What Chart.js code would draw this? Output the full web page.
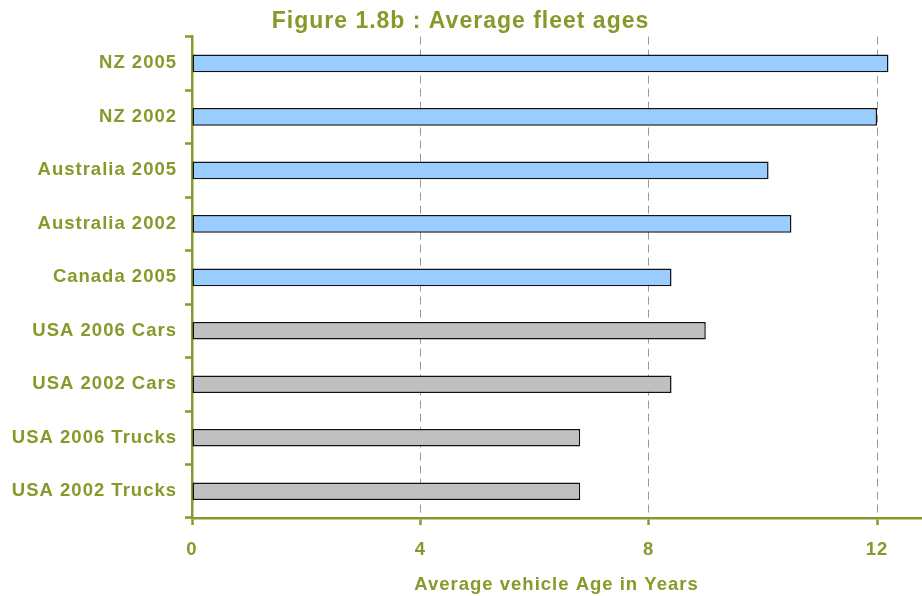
<!DOCTYPE html>
<html>
<head>
<meta charset="utf-8">
<script src="https://cdn.jsdelivr.net/npm/chart.js@4"></script>
<style>
  body { margin: 0; background: #fff; }
  #wrap { width: 922px; height: 596px; position: relative; }
</style>
</head>
<body>
<div id="wrap"><canvas id="fleet"></canvas></div>
<script>
const labels = ['NZ 2005', 'NZ 2002', 'Australia 2005', 'Australia 2002', 'Canada 2005',
  'USA 2006 Cars', 'USA 2002 Cars', 'USA 2006 Trucks', 'USA 2002 Trucks'];
const ages = [12.2, 12.0, 10.1, 10.5, 8.4, 9.0, 8.4, 6.8, 6.8];
const barColors = ['#99CCFF', '#99CCFF', '#99CCFF', '#99CCFF', '#99CCFF',
  '#C0C0C0', '#C0C0C0', '#C0C0C0', '#C0C0C0'];
const xTicks = [0, 4, 8, 12];

const olive = '#869A2A';

// canvas letter spacing, the source text is spaced out a bit
const spacing = {
  id: 'spacing',
  beforeInit(chart) { chart.ctx.letterSpacing = '1px'; },
  beforeUpdate(chart) { chart.ctx.letterSpacing = '1px'; },
  beforeDraw(chart) { chart.ctx.letterSpacing = '1px'; }
};

const data = {
  labels: labels,
  datasets: [{
    label: 'Average age',
    data: ages,
    backgroundColor: barColors,
    borderColor: '#111',
    borderWidth: 1.5,
    borderSkipped: false,
    barPercentage: 0.33,
    categoryPercentage: 1
  }]
};

const config = {
  type: 'bar',
  data: data,
  plugins: [spacing],
  options: {
    indexAxis: 'y',
    responsive: true,
    maintainAspectRatio: false,
    animation: false,
    layout: {
      padding: { top: 0, bottom: 0, left: 0, right: 1 }
    },
    plugins: {
      legend: { display: false },
      tooltip: { enabled: false },
      title: {
        display: true,
        text: 'Figure 1.8b : Average fleet ages',
        color: olive,
        font: { family: 'Liberation Sans', size: 23, weight: 'bold' },
        padding: { top: 8, bottom: 1 }
      }
    },
    scales: {
      x: {
        min: 0,
        max: 12.77,
        afterBuildTicks: (axis) => { axis.ticks = xTicks.map(v => ({ value: v })); },
        afterFit: (axis) => { axis.height = 78; },
        grid: {
          color: (c) => (c.tick && c.tick.value === 0) ? 'rgba(0,0,0,0)' : '#9a9a9a',
          lineWidth: 1,
          tickColor: olive,
          tickWidth: 2.5,
          tickLength: 7,
          tickBorderDash: []
        },
        border: { color: olive, width: 2.5, dash: [8, 5] },
        ticks: {
          color: olive,
          padding: 14,
          font: { family: 'Liberation Sans', size: 18.5, weight: 'bold' }
        },
        title: {
          display: true,
          text: 'Average vehicle Age in Years',
          color: olive,
          font: { family: 'Liberation Sans', size: 18.5, weight: 'bold' },
          padding: { top: 4, bottom: 0 }
        }
      },
      y: {
        afterFit: (axis) => { axis.width = 192; },
        grid: {
          drawOnChartArea: false,
          offset: true,
          tickColor: olive,
          tickWidth: 2.5,
          tickLength: 7,
          tickBorderDash: []
        },
        border: { color: olive, width: 2.5 },
        ticks: {
          color: olive,
          padding: 8,
          font: { family: 'Liberation Sans', size: 18.5, weight: 'bold' }
        }
      }
    }
  }
};

const fleetChart = new Chart(document.getElementById('fleet'), config);
</script>
</body>
</html>
